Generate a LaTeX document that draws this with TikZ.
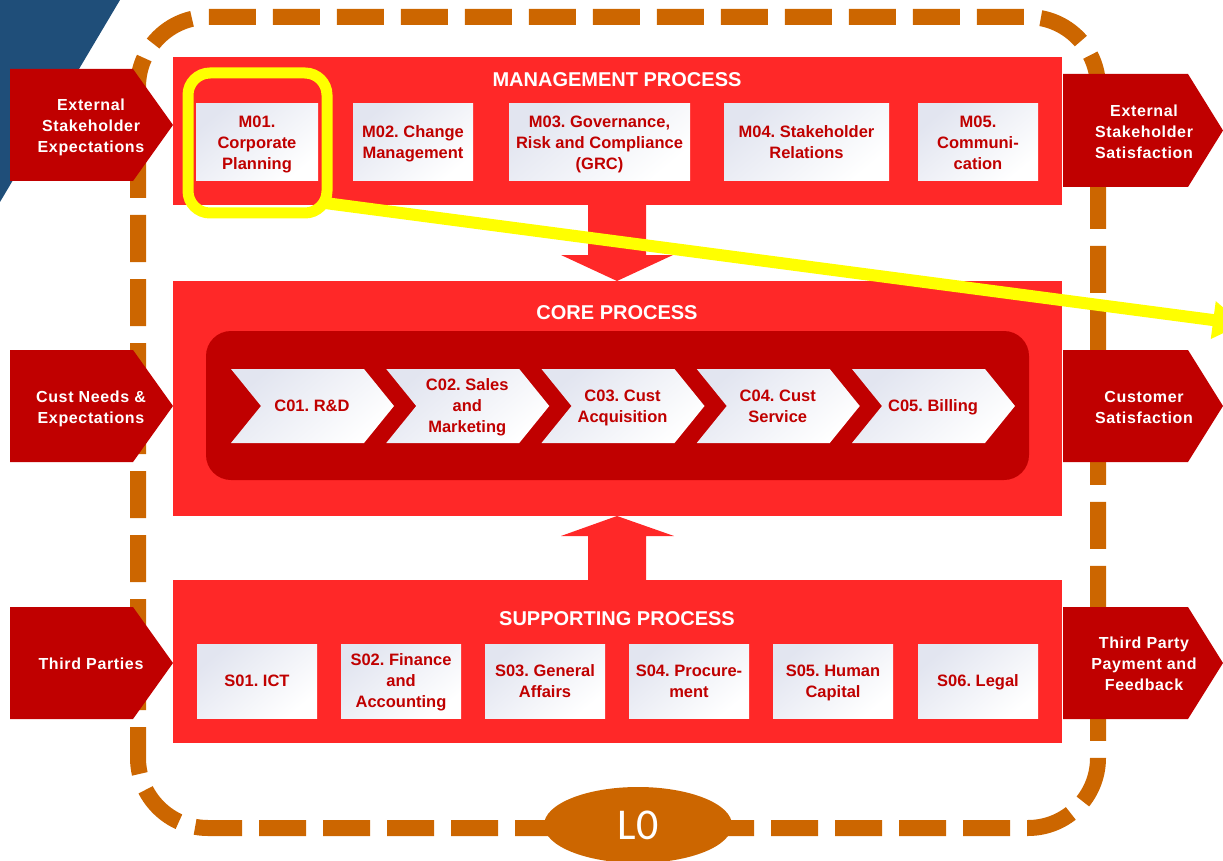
\documentclass[tikz,border=0pt]{standalone}
\usepackage{fontspec}
\setmainfont{Liberation Sans}
\newfontfamily\flowfont[LetterSpace=4]{Liberation Sans}
\newfontfamily\levelfont{Carlito}
\usetikzlibrary{arrows.meta,shapes.geometric}
\frenchspacing

\definecolor{procred}{HTML}{FF2828}
\definecolor{deepred}{HTML}{C00000}
\definecolor{frameorange}{HTML}{CC6600}
\definecolor{steelblue}{HTML}{1F4E79}
\definecolor{boxtint}{HTML}{E2E5F0}
\definecolor{markyellow}{HTML}{FFFF00}

\begin{document}
\begin{tikzpicture}[x=1pt,y=-1pt,
  procbox/.style={fill=procred},
  boxtitle/.style={text=white, yshift=-1pt, font=\bfseries\fontsize{20}{24}\selectfont},
  tasktext/.style={text=deepred, align=center, inner sep=0pt,
    font=\bfseries\fontsize{16.5}{21}\selectfont},
  taskbox/.style={tasktext, top color=boxtint, bottom color=white, shading angle=40},
  paleshade/.style={top color=boxtint, bottom color=white, shading angle=40},
  flowarrow/.style={fill=deepred},
  flowtext/.style={text=white, align=center, inner sep=0pt,
    font=\flowfont\bfseries\fontsize{16}{21}\selectfont},
  blockarrow/.style={fill=procred},
]
\useasboundingbox (0,0) rectangle (1223,861);
\clip (0,0) rectangle (1223,861);

% backdrop corner
\fill[steelblue] (0,0) -- (120,0) -- (0,202) -- cycle;

% dashed level frame
\draw[frameorange, line width=16pt, dash pattern=on 47pt off 17pt,
      rounded corners=70pt] (138,17) rectangle (1098,828);
\node[ellipse, fill=frameorange, minimum width=188pt, minimum height=76pt,
      inner sep=0pt, text=white, font=\levelfont\fontsize{44}{44}\selectfont]
      (lzero) at (638,825) {L0};

% ---------------- management process ----------------
\fill[procbox] (173,57) rectangle (1062,205);
\node[boxtitle] (mtitle) at (617,79) {MANAGEMENT PROCESS};
\begin{scope}[every node/.append style={text depth=0pt}]
\node[taskbox, minimum width=122pt, minimum height=77pt] (m1) at (257,142.5) {M01.\\Corporate\\Planning};
\node[taskbox, minimum width=120pt, minimum height=77pt] (m2) at (413,142.5) {M02. Change\\Management};
\node[taskbox, minimum width=181pt, minimum height=77pt] (m3) at (599.5,142.5) {M03. Governance,\\Risk and Compliance\\(GRC)};
\node[taskbox, minimum width=165pt, minimum height=77pt] (m4) at (806.5,142.5) {M04. Stakeholder\\Relations};
\node[taskbox, minimum width=120pt, minimum height=77pt] (m5) at (978,142.5) {M05.\\Communi-\\cation};
\end{scope}

% down block arrow into core process
\fill[blockarrow] (588,205) -- (646,205) -- (646,255) -- (673,255) -- (617,281)
      -- (561,255) -- (588,255) -- cycle;

% ---------------- core process ----------------
\fill[procbox] (173,281) rectangle (1062,516);
\node[boxtitle] (ctitle) at (617,312) {CORE PROCESS};
\fill[deepred, rounded corners=25pt] (206,331) rectangle (1029,480);
\foreach [count=\n] \txt in {{C01. R\&D},{C02. Sales\\and\\Marketing},
    {C03. Cust\\Acquisition},{C04. Cust\\Service},{C05. Billing}} {
  \pgfmathsetmacro\cx{231+155.25*(\n-1)}
  \shade[paleshade] (\cx,369) -- ++(133,0) -- ++(30,37) -- ++(-30,37)
      -- ++(-133,0) -- ++(30,-37) -- cycle;
  \node[tasktext, text depth=0pt] (c\n) at (\cx+81,406) {\txt};
}

% up block arrow into core process
\fill[blockarrow] (588,580) -- (646,580) -- (646,536) -- (674,536) -- (617,516)
      -- (561,536) -- (588,536) -- cycle;

% ---------------- supporting process ----------------
\fill[procbox] (173,580) rectangle (1062,743);
\node[boxtitle] (stitle) at (617,618) {SUPPORTING PROCESS};
\begin{scope}[every node/.append style={text depth=0pt}]
\node[taskbox, minimum width=120pt, minimum height=74pt] (s1) at (257,681) {S01. ICT};
\node[taskbox, minimum width=120pt, minimum height=74pt] (s2) at (401,681) {S02. Finance\\and\\Accounting};
\node[taskbox, minimum width=120pt, minimum height=74pt] (s3) at (545,681) {S03. General\\Affairs};
\node[taskbox, minimum width=120pt, minimum height=74pt] (s4) at (689,681) {S04. Procure-\\ment};
\node[taskbox, minimum width=120pt, minimum height=74pt] (s5) at (833,681) {S05. Human\\Capital};
\node[taskbox, minimum width=120pt, minimum height=74pt] (s6) at (978,681) {S06. Legal};
\end{scope}

% ---------------- inputs ----------------
\foreach \top/\bot/\txt/\nm in {69/181/{External\\Stakeholder\\Expectations}/in1,
    350/462/{Cust Needs \&\\Expectations}/in2, 607/719/{Third Parties}/in3} {
  \fill[flowarrow] (10,\top) -- (133,\top) -- (173,{(\top+\bot)/2}) -- (133,\bot)
      -- (10,\bot) -- cycle;
  \node[flowtext, text depth=0pt] (\nm) at (91,{(\top+\bot)/2+1}) {\txt};
}

% ---------------- outputs ----------------
\foreach \top/\bot/\txt/\nm in {74/187/{External\\Stakeholder\\Satisfaction}/out1,
    350/462/{Customer\\Satisfaction}/out2, 607/719/{Third Party\\Payment and\\Feedback}/out3} {
  \fill[flowarrow] (1063,\top) -- (1188,\top) -- (1223,{(\top+\bot)/2}) -- (1188,\bot)
      -- (1063,\bot) -- cycle;
  \node[flowtext, text depth=0pt] (\nm) at (1144,{(\top+\bot)/2+1}) {\txt};
}

% ---------------- highlight of M01 ----------------
\node[draw=markyellow, line width=11pt, rounded corners=22pt, inner sep=0pt,
      minimum width=139pt, minimum height=140pt] (hl) at (257.5,143) {};
\coordinate (hlout) at (325,203);
\coordinate (hltip) at (1243,324);
\draw[markyellow, line width=12pt, -{Triangle[length=30pt,width=36pt]}] (hlout) -- (hltip);
\end{tikzpicture}
\end{document}
